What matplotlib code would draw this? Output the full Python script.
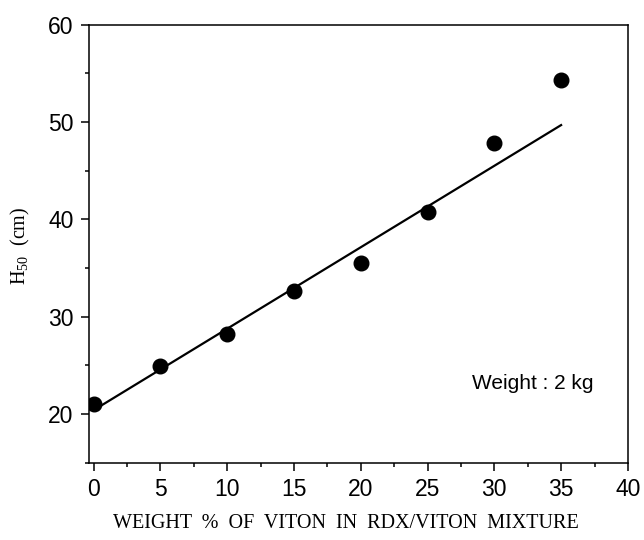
import matplotlib
matplotlib.use("Agg")
import matplotlib.pyplot as plt
from matplotlib.ticker import MultipleLocator
import numpy as np

plt.rcParams["mathtext.fontset"] = "custom"
plt.rcParams["mathtext.rm"] = "Liberation Serif"
plt.rcParams["mathtext.it"] = "Liberation Serif:italic"

viton_wt = [0, 5, 10, 15, 20, 25, 30, 35]
h50_cm = [21.0, 24.9, 28.2, 32.6, 35.5, 40.8, 47.9, 54.3]
fit_x = [0, 35]
fit_y = [20.4, 49.7]

fig = plt.figure(figsize=(6.44, 5.40), dpi=100)
ax = fig.add_axes([0.138, 0.143, 0.837, 0.811])

ax.plot(fit_x, fit_y, color="black", lw=1.6, zorder=2)
ax.plot(viton_wt, h50_cm, "o", color="black", ms=10.5, zorder=3)

ax.set_xlim(-0.35, 40)
ax.set_ylim(15, 60)
ax.xaxis.set_major_locator(MultipleLocator(5))
ax.xaxis.set_minor_locator(MultipleLocator(2.5))
ax.yaxis.set_major_locator(MultipleLocator(10))
ax.yaxis.set_minor_locator(MultipleLocator(5))
ax.tick_params(which="major", direction="out", length=6, width=1.1,
               labelsize=16.5, pad=5)
ax.tick_params(which="minor", direction="out", length=3, width=1.1)
for lab in ax.get_xticklabels() + ax.get_yticklabels():
    lab.set_family("Liberation Sans")
for s in ax.spines.values():
    s.set_linewidth(1.1)

ax.text(0.824, 0.182, "Weight : 2 kg", transform=ax.transAxes,
        ha="center", va="center", fontsize=15, family="Liberation Sans")

fig.text(0.537, 0.030, "WEIGHT  %  OF  VITON  IN  RDX/VITON  MIXTURE",
         ha="center", va="center", fontsize=14.5, family="Liberation Serif")
fig.text(0.032, 0.545, r"H$_{50}$  (cm)", rotation=90, ha="center", va="center",
         fontsize=14.5, family="Liberation Serif")

fig.savefig("out.png", dpi=100)
